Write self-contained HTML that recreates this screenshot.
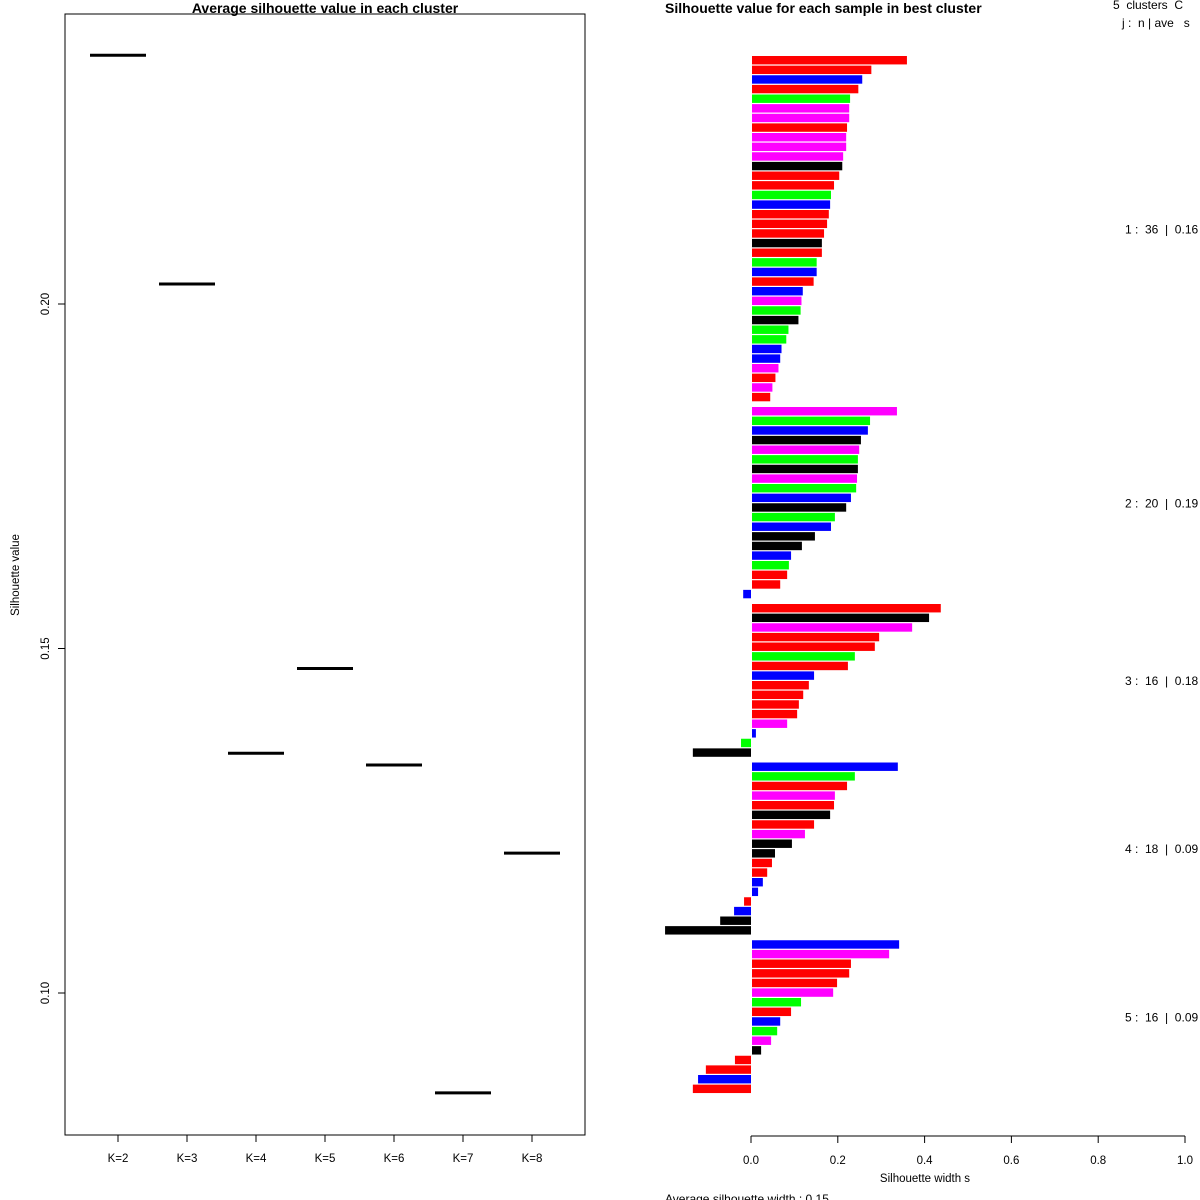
<!DOCTYPE html>
<html><head><meta charset="utf-8"><style>
html,body{margin:0;padding:0;background:#fff;}
svg{display:block;font-family:"Liberation Sans",Arial,sans-serif;}
</style></head><body>
<svg id="c" width="1200" height="1200" viewBox="0 0 1200 1200"></svg>
<script>
// Left chart data
const kLabels = ["K=2","K=3","K=4","K=5","K=6","K=7","K=8"];
const avgSil = [0.2361,0.2029,0.1348,0.1471,0.1331,0.0855,0.1203];
const yTicks = [0.10,0.15,0.20];
const yTickLabels = ["0.10","0.15","0.20"];
// Right chart data
const clusterSizes = [36,20,16,18,16];
const clusterAvgLabels = ["1 :\u00a0\u00a036\u00a0\u00a0|\u00a0\u00a00.16","2 :\u00a0\u00a020\u00a0\u00a0|\u00a0\u00a00.19","3 :\u00a0\u00a016\u00a0\u00a0|\u00a0\u00a00.18","4 :\u00a0\u00a018\u00a0\u00a0|\u00a0\u00a00.09","5 :\u00a0\u00a016\u00a0\u00a0|\u00a0\u00a00.09"];
const silValues = [
 0.357,0.275,0.254,0.245,0.226,0.224,0.224,0.219,0.217,0.217,0.210,0.208,0.201,0.189,0.182,0.180,0.177,0.173,0.166,0.161,0.161,0.149,0.149,0.142,0.117,0.114,0.112,0.107,0.084,0.079,0.068,0.065,0.061,0.054,0.047,0.042,
 0.334,0.272,0.267,0.251,0.247,0.244,0.244,0.242,0.240,0.228,0.217,0.191,0.182,0.145,0.115,0.090,0.085,0.081,0.065,-0.018,
 0.435,0.408,0.369,0.293,0.283,0.237,0.221,0.143,0.131,0.118,0.108,0.104,0.081,0.009,-0.023,-0.134,
 0.336,0.237,0.219,0.191,0.189,0.180,0.143,0.122,0.092,0.053,0.046,0.035,0.025,0.014,-0.016,-0.039,-0.071,-0.198,
 0.339,0.316,0.228,0.224,0.196,0.187,0.113,0.090,0.065,0.058,0.044,0.021,-0.037,-0.104,-0.122,-0.134];
const silColors = "rrbrgmmrmmmkrrgbrrrkrgbrbmgkggbbmrmr"+"mgbkmgkmgbkgbkkbgrrb"+"rkmrrgrbrrrrmbgk"+"bgrmrkrmkkrrbbrbkk"+"bmrrrmgrbgmkrrbr";
const xTicks = [0,0.2,0.4,0.6,0.8,1.0];
const xTickLabels = ["0.0","0.2","0.4","0.6","0.8","1.0"];

const NS="http://www.w3.org/2000/svg";
const svg=document.getElementById('c');
function mk(tag,attrs,text){const e=document.createElementNS(NS,tag);for(const k in attrs)e.setAttribute(k,attrs[k]);if(text!==undefined)e.textContent=text;svg.appendChild(e);return e;}
const colMap={r:"#ff0000",b:"#0000ff",g:"#00ff00",m:"#ff00ff",k:"#000000"};

// ----- Left panel -----
const yScale=v=>993-(v-0.10)/0.05*344.5;
const xK=i=>118+i*69;
let e=mk('rect',{x:65,y:14,width:520,height:1121,fill:"none",stroke:"#000","stroke-width":1});


e=mk('text',{x:325,y:13,"text-anchor":"middle","font-size":14,"font-weight":"bold"},"Average silhouette value in each cluster");


e=mk('text',{x:0,y:0,transform:"translate(19,575) rotate(-90)","text-anchor":"middle","font-size":11.5},"Silhouette value");


yTicks.forEach((t,i)=>{
  const y=yScale(t);
  let l=mk('line',{x1:58,x2:65,y1:y,y2:y,stroke:"#000"});
  
  
  let tx=mk('text',{x:0,y:0,transform:`translate(49,${y}) rotate(-90)`,"text-anchor":"middle","font-size":11.5},yTickLabels[i]);
  
  
});
kLabels.forEach((k,i)=>{
  const x=xK(i);
  let l=mk('line',{x1:x,x2:x,y1:1135,y2:1142,stroke:"#000"});
  
  
  let tx=mk('text',{x:x,y:1162,"text-anchor":"middle","font-size":11.5},k);
  
  
  const y=yScale(avgSil[i]);
  let s=mk('line',{x1:x-28,x2:x+28,y1:y,y2:y,stroke:"#000","stroke-width":3});
  
  
});

// ----- Right panel -----
const xS=v=>751+v*434;
const pitch=9.625, gap=4.5;
e=mk('text',{x:665,y:13,"font-size":14,"font-weight":"bold"},"Silhouette value for each sample in best cluster");


e=mk('text',{x:1113,y:9,"font-size":12},"5\u00a0\u00a0clusters\u00a0\u00a0C");


e=mk('text',{x:1122,y:27,"font-size":12},"j :\u00a0\u00a0n | ave\u00a0\u00a0\u00a0s");


let idx=0, y0=56;
clusterSizes.forEach((n,c)=>{
  const start=y0;
  for(let j=0;j<n;j++){
    const v=silValues[idx];
    const y=y0+j*pitch;
    const x1=v>=0?xS(0)+1:xS(v), w=Math.abs(v)*434;
    let r=mk('rect',{x:x1,y:y,width:Math.max(w,0.5),height:pitch-1.2,fill:colMap[silColors[idx]]});
    
    
    idx++;
  }
  y0+=n*pitch+gap;
  const mid=(start+start+n*pitch)/2;
  let t=mk('text',{x:1125,y:mid+4,"font-size":12},clusterAvgLabels[c]);
  
  
});
e=mk('line',{x1:xS(0),x2:xS(1),y1:1136,y2:1136,stroke:"#000"});


xTicks.forEach((t,i)=>{
  const x=xS(t);
  let l=mk('line',{x1:x,x2:x,y1:1136,y2:1143,stroke:"#000"});
  
  
  let tx=mk('text',{x:x,y:1164,"text-anchor":"middle","font-size":11.5},xTickLabels[i]);
  
  
});
e=mk('text',{x:925,y:1182,"text-anchor":"middle","font-size":11.5},"Silhouette width s");


e=mk('text',{x:665,y:1203,"font-size":12},"Average silhouette width :  0.15");


</script>
</body></html>
